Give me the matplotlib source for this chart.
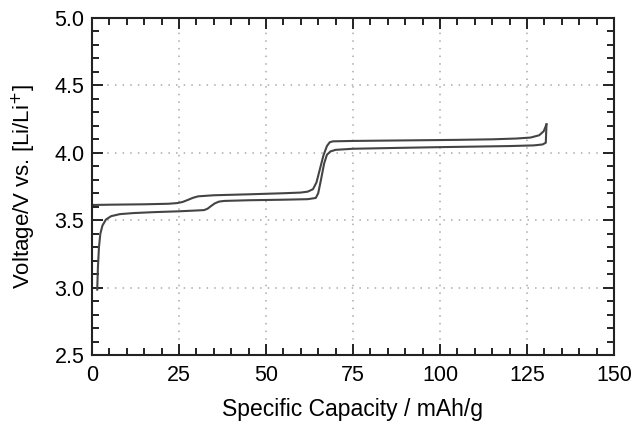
import matplotlib.pyplot as plt
from matplotlib.ticker import MultipleLocator

plt.rcParams['font.family'] = ['Liberation Sans', 'DejaVu Sans']

# charge branch (lower capacity -> higher)
charge_cap = [0.3, 5, 15, 22, 24.5, 26, 27.5, 29, 30.5, 35, 45, 55, 60, 62, 63.5,
              64.5, 65.5, 66.5, 67.5, 68.3, 69.2, 75, 90, 105, 115, 122, 126,
              128.5, 129.8, 130.6]
charge_v = [3.613, 3.615, 3.618, 3.622, 3.627, 3.635, 3.650, 3.666, 3.677, 3.685,
            3.692, 3.700, 3.705, 3.712, 3.730, 3.780, 3.880, 3.980, 4.050, 4.078,
            4.085, 4.088, 4.092, 4.096, 4.100, 4.106, 4.113, 4.130, 4.160, 4.211]

# discharge branch (higher capacity -> lower)
discharge_cap = [130.6, 130.4, 129.5, 127, 120, 100, 85, 75, 70, 68.5, 67.5,
                 66.7, 65.8, 65.0, 64.3, 62, 55, 45, 38, 36.5, 35.3, 34.2, 33.2,
                 32.2, 30, 25, 18, 12, 8, 5.5, 4, 3, 2.4, 2.0, 1.7, 1.5]
discharge_v = [4.211, 4.075, 4.062, 4.055, 4.050, 4.042, 4.035, 4.030, 4.022,
               4.010, 3.985, 3.920, 3.800, 3.700, 3.665, 3.656, 3.652, 3.648,
               3.643, 3.638, 3.625, 3.605, 3.585, 3.575, 3.572, 3.566, 3.560,
               3.553, 3.545, 3.530, 3.505, 3.460, 3.400, 3.300, 3.150, 2.985]

fig = plt.figure(figsize=(6.34, 4.24), dpi=100)
ax = fig.add_axes([92 / 634, 1 - 355 / 424, (614 - 92) / 634, (355 - 18) / 424])

ax.plot(charge_cap, charge_v, color='#444444', lw=1.5)
ax.plot(discharge_cap, discharge_v, color='#444444', lw=1.5)

ax.set_xlim(0, 150)
ax.set_ylim(2.5, 5.0)
ax.xaxis.set_major_locator(MultipleLocator(25))
ax.xaxis.set_minor_locator(MultipleLocator(5))
ax.yaxis.set_major_locator(MultipleLocator(0.5))
ax.yaxis.set_minor_locator(MultipleLocator(0.1))
ax.yaxis.set_major_formatter(plt.FormatStrFormatter('%.1f'))

ax.tick_params(which='both', direction='in', top=True, right=True,
               width=1.4, color='#222222')
ax.tick_params(which='major', length=8, labelsize=15.5)
ax.tick_params(axis='x', which='major', pad=7)
ax.tick_params(axis='y', which='major', pad=5.5)
ax.tick_params(which='minor', length=5)
for s in ax.spines.values():
    s.set_linewidth(1.5)
    s.set_color('#222222')

ax.grid(True, which='major', linestyle=(0, (1, 4)), color='#aaaaaa', lw=1.1)

ax.set_xlabel('Specific Capacity / mAh/g', fontsize=16.5, labelpad=9)
ax.set_ylabel('Voltage/V vs. [Li/Li$^{+}$]', fontsize=16, labelpad=12)

fig.savefig('out.png', dpi=100)
